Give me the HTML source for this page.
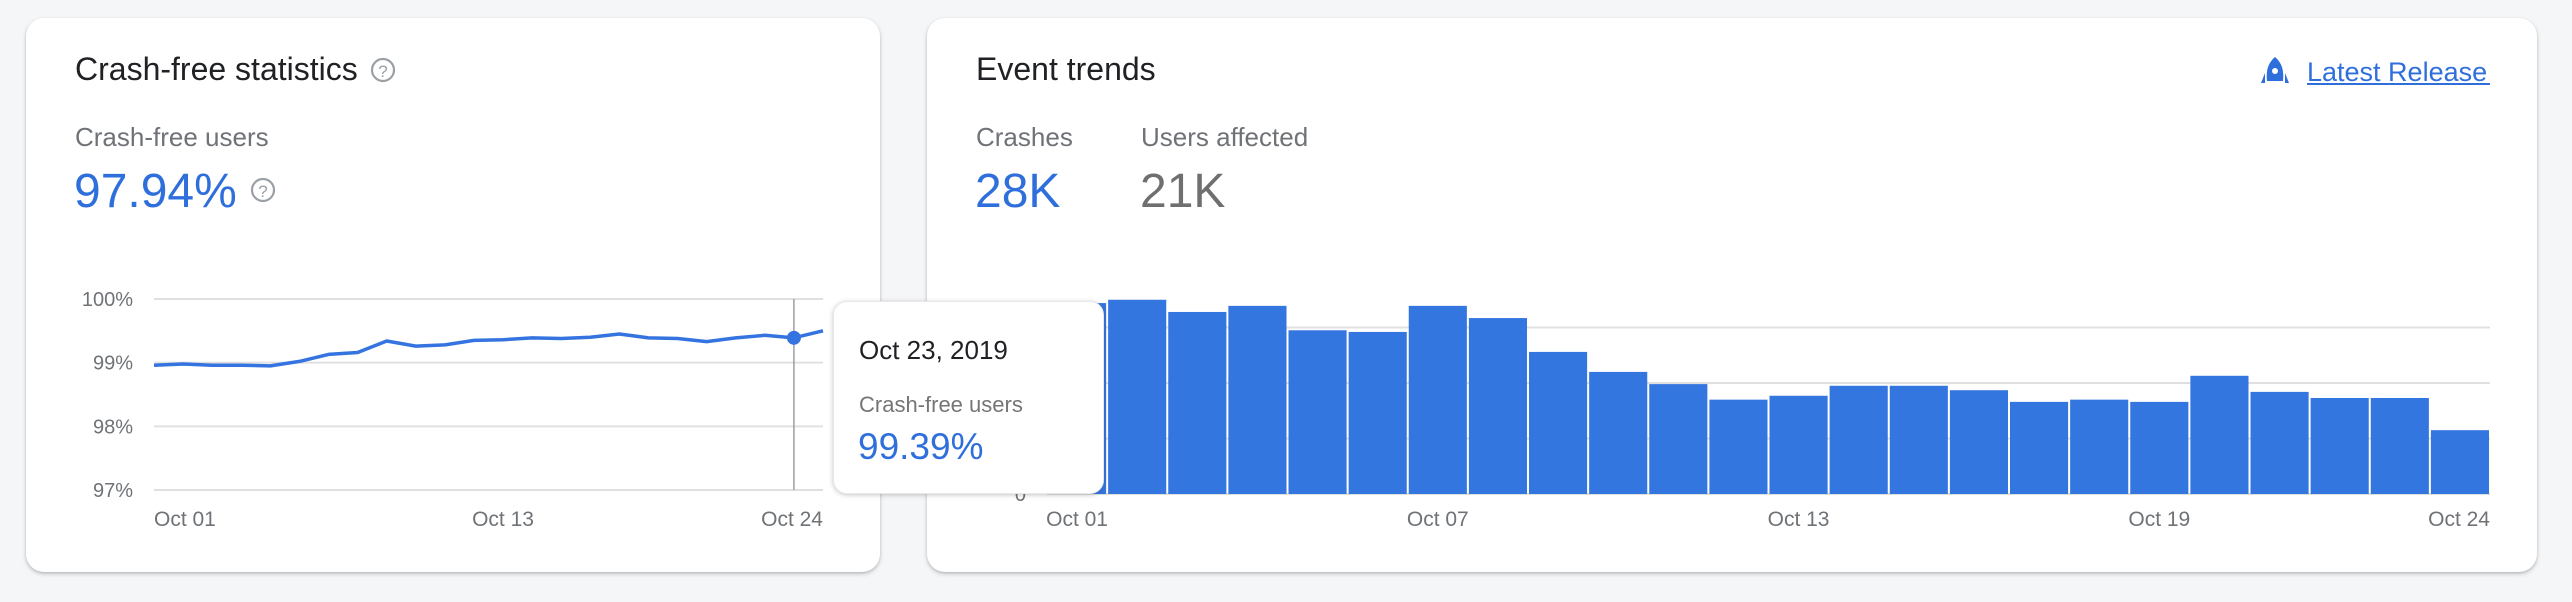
<!DOCTYPE html>
<html><head><meta charset="utf-8">
<style>
html,body{margin:0;padding:0;width:2572px;height:602px;overflow:hidden;background:#f5f6f8;font-family:"Liberation Sans",Arial,sans-serif;}
.card{position:absolute;background:#fff;border-radius:18px;box-shadow:0 2px 4px rgba(60,64,67,.25),0 1px 2px rgba(60,64,67,.15);}
.tt{position:absolute;left:833px;top:301px;width:271px;height:193px;background:#fff;border-radius:14px;box-shadow:0 1px 5px rgba(60,64,67,.3);border:1px solid #e8e8e8;box-sizing:border-box;}
svg{position:absolute;left:0;top:0;}
</style></head>
<body>
<div class="card" style="left:26px;top:18px;width:854px;height:554px;"></div>
<div class="card" style="left:927px;top:18px;width:1610px;height:554px;"></div>

<svg id="chart" width="2572" height="602" xmlns="http://www.w3.org/2000/svg" font-family="Liberation Sans, Arial, sans-serif">
  <text x="75" y="80" font-size="32" fill="#202124">Crash-free statistics</text>
  <g>
    <circle cx="383" cy="70" r="11" fill="none" stroke="#9aa0a6" stroke-width="2.2"/>
    <text x="383" y="77" font-size="17" fill="#9aa0a6" text-anchor="middle">?</text>
  </g>
  <text x="75" y="146" font-size="26" fill="#6f7377">Crash-free users</text>
  <text x="74" y="207" font-size="48" fill="#2f6fdc">97.94%</text>
  <g>
    <circle cx="263" cy="190" r="11" fill="none" stroke="#9aa0a6" stroke-width="2.2"/>
    <text x="263" y="197" font-size="17" fill="#9aa0a6" text-anchor="middle">?</text>
  </g>

  <text x="976" y="80" font-size="32" fill="#202124">Event trends</text>
  <text x="976" y="146" font-size="26" fill="#6f7377">Crashes</text>
  <text x="975" y="207" font-size="48" fill="#2f6fdc">28K</text>
  <text x="1141" y="146" font-size="26" fill="#6f7377">Users affected</text>
  <text x="1140" y="207" font-size="48" fill="#6f6f6f">21K</text>
  <g>
    <path d="M2275 57 C2268 63 2266 70 2267 81 L2283 81 C2284 70 2282 63 2275 57 Z M2265 73 L2261 83 L2265 83 Z M2285 73 L2289 83 L2285 83 Z" fill="#2f6fdc"/>
    <circle cx="2275" cy="71" r="3" fill="#fff"/>
    <text x="2307" y="81" font-size="27" fill="#2f6fdc">Latest Release</text>
    <rect x="2307" y="83" width="183" height="2" fill="#2f6fdc"/>
  </g>
  <g id="lineChart"></g>
  <g id="barChart"></g>
</svg>

<div class="tt">
  <div style="position:absolute;left:25px;top:33px;font-size:26px;color:#202124;">Oct 23, 2019</div>
  <div style="position:absolute;left:25px;top:90px;font-size:22px;color:#757575;">Crash-free users</div>
  <div style="position:absolute;left:24px;top:124px;font-size:37px;color:#2f6fdc;">99.39%</div>
</div>

<script>
const NS='http://www.w3.org/2000/svg';
const lineDays=['Oct 01','Oct 02','Oct 03','Oct 04','Oct 05','Oct 06','Oct 07','Oct 08','Oct 09','Oct 10','Oct 11','Oct 12','Oct 13','Oct 14','Oct 15','Oct 16','Oct 17','Oct 18','Oct 19','Oct 20','Oct 21','Oct 22','Oct 23','Oct 24'];
const crashFree=[98.96,98.98,98.96,98.96,98.95,99.02,99.13,99.16,99.34,99.26,99.28,99.35,99.36,99.39,99.38,99.40,99.45,99.39,99.38,99.33,99.39,99.43,99.39,99.50];
const lineYTicks=[97,98,99,100];
const lineYLabels=['97%','98%','99%','100%'];
const lineXTicks=['Oct 01','Oct 13','Oct 24'];
const hoverDay='Oct 23';

const barDays=lineDays.slice();
const crashes=[1720,1750,1640,1695,1475,1460,1695,1585,1280,1100,990,850,885,975,975,935,830,850,830,1065,920,865,865,575];
const barYTicks=[0,500,1000,1500];
const barYLabels=['0','500','1K','1.5K'];
const barXTicks=['Oct 01','Oct 07','Oct 13','Oct 19','Oct 24'];

function mk(tag,attrs,parent){const e=document.createElementNS(NS,tag);for(const k in attrs)e.setAttribute(k,attrs[k]);parent.appendChild(e);return e;}

// line chart
const lg=document.getElementById('lineChart');
const lx0=154,lx1=823,ly0=490,ly1=299;
const lX=i=>lx0+i*(lx1-lx0)/(lineDays.length-1);
const lY=v=>ly0-(v-97)*(ly0-ly1)/3;
lineYTicks.forEach((t,i)=>{
  const l=mk('line',{x1:lx0,x2:lx1,y1:lY(t),y2:lY(t),stroke:'#e0e0e0','stroke-width':2},lg);
  
  
  const tx=mk('text',{x:133,y:lY(t)+7,'font-size':20,fill:'#6f7377','text-anchor':'end'},lg);
  tx.textContent=lineYLabels[i];
  
  
});
lineXTicks.forEach((d,i)=>{
  const idx=lineDays.indexOf(d);
  const anchor=i===0?'start':(i===lineXTicks.length-1?'end':'middle');
  const tx=mk('text',{x:lX(idx),y:526,'font-size':21,fill:'#6f7377','text-anchor':anchor},lg);
  tx.textContent=d;
  
  
});
const hi=lineDays.indexOf(hoverDay);
const hv=mk('line',{x1:lX(hi),x2:lX(hi),y1:ly1,y2:ly0,stroke:'#9e9e9e','stroke-width':1.5},lg);


const pl=mk('polyline',{points:crashFree.map((v,i)=>lX(i)+','+lY(v)).join(' '),fill:'none',stroke:'#3574e0','stroke-width':3.5,'stroke-linejoin':'round'},lg);


const dot=mk('circle',{cx:lX(hi),cy:lY(crashFree[hi]),r:7,fill:'#3574e0'},lg);



// bar chart
const bg=document.getElementById('barChart');
const bx0=1047,bx1=2490,by0=494,pxPer=55.5/500;
const bw=(bx1-bx0)/barDays.length;
const bY=v=>by0-v*pxPer;
barYTicks.forEach((t,i)=>{
  const l=mk('line',{x1:bx0,x2:bx1,y1:bY(t),y2:bY(t),stroke:'#e0e0e0','stroke-width':2},bg);
  
  
  const tx=mk('text',{x:1026,y:bY(t)+7,'font-size':20,fill:'#6f7377','text-anchor':'end'},bg);
  tx.textContent=barYLabels[i];
  
  
});
crashes.forEach((v,i)=>{
  const r=mk('rect',{x:bx0+i*bw+1,y:bY(v),width:bw-2,height:v*pxPer,fill:'#3476df'},bg);
  
  
});
barXTicks.forEach((d,i)=>{
  const idx=barDays.indexOf(d);
  const last=i===barXTicks.length-1;
  const tx=mk('text',{x:last?bx1:bx0+(idx+0.5)*bw,y:526,'font-size':21,fill:'#6f7377','text-anchor':last?'end':'middle'},bg);
  tx.textContent=d;
  
  
});
</script>
</body></html>
